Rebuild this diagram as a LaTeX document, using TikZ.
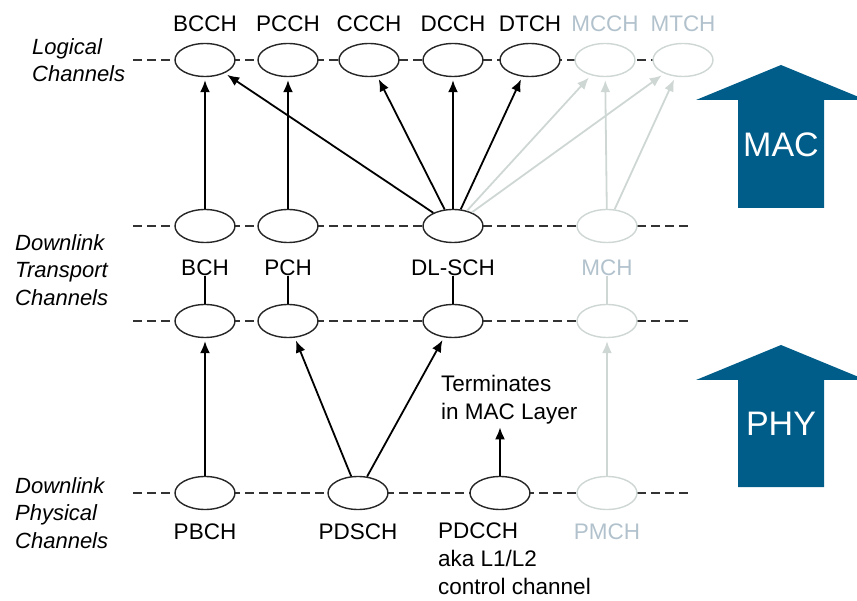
\documentclass[tikz,border=0pt]{standalone}
\usepackage{fontspec}
\setmainfont{Liberation Sans}
\usepackage{xcolor}
\usetikzlibrary{arrows.meta,positioning,shapes.geometric}
\definecolor{layerblue}{RGB}{0,93,137}
\definecolor{mbmsline}{RGB}{206,215,212}
\definecolor{mbmstext}{RGB}{178,194,205}

\begin{document}
\begin{tikzpicture}[
  x=1pt,y=-1pt,
  font=\fontsize{22.5}{28}\selectfont,
  chan/.style={draw=black!85,ellipse,fill=white,line width=1.4pt,
               minimum width=60pt,minimum height=33pt,inner sep=0pt},
  mbms/.style={draw=mbmsline},
  row/.style={draw=black!80,line width=1.3pt,dash pattern=on 9pt off 5pt},
  arr/.style={-{Latex[length=12pt,width=10pt]},line width=1.8pt,shorten >=3pt},
  garr/.style={arr,draw=mbmsline,fill=mbmsline},
  tie/.style={line width=1.4pt},
  lbl/.style={inner sep=0pt},
  glbl/.style={lbl,text=mbmstext},
  side/.style={inner sep=0pt,align=left,anchor=west,
               font=\fontsize{22}{27.5}\selectfont\itshape},
  layer/.style={fill=layerblue},
  layertxt/.style={inner sep=0pt,text=white,font=\fontsize{34}{40}\selectfont}]
\useasboundingbox (0,0) rectangle (857,601);

% dashed rows
\draw[row] (133,60) -- (683,60);
\draw[row] (133,226) -- (690,226);
\draw[row] (133,321) -- (690,321);
\draw[row] (133,493) -- (690,493);

% side captions
\node[side] (logcap) at (32,60) {Logical\\Channels};
\node[side] (trcap) at (15,270) {Downlink\\Transport\\Channels};
\node[side] (phycap) at (15,513) {Downlink\\Physical\\Channels};

% logical channels
\node[chan] (bcch) at (205,60) {};
\node[chan] (pcch) at (288,60) {};
\node[chan] (ccch) at (369,60) {};
\node[chan] (dcch) at (453,60) {};
\node[chan] (dtch) at (530,60) {};
\node[chan,mbms] (mcch) at (605,60) {};
\node[chan,mbms] (mtch) at (683,60) {};
\node[lbl,above=11pt of bcch] (bcchl) {BCCH};
\node[lbl,above=11pt of pcch] (pcchl) {PCCH};
\node[lbl,above=11pt of ccch] (ccchl) {CCCH};
\node[lbl,above=11pt of dcch] (dcchl) {DCCH};
\node[lbl,above=11pt of dtch] (dtchl) {DTCH};
\node[glbl,above=11pt of mcch] (mcchl) {MCCH};
\node[glbl,above=11pt of mtch] (mtchl) {MTCH};

% transport channels, MAC side and PHY side
\node[chan] (bch) at (205,226) {};
\node[chan] (pch) at (288,226) {};
\node[chan] (dlsch) at (453,226) {};
\node[chan,mbms] (mch) at (607,226) {};
\node[lbl,below=16pt of bch] (bchl) {BCH};
\node[lbl,below=16pt of pch] (pchl) {PCH};
\node[lbl,below=16pt of dlsch] (dlschl) {DL-SCH};
\node[glbl,below=16pt of mch] (mchl) {MCH};
\node[chan] (bch2) at (205,321) {};
\node[chan] (pch2) at (288,321) {};
\node[chan] (dlsch2) at (453,321) {};
\node[chan,mbms] (mch2) at (607,321) {};
\draw[tie] (bchl.south) -- (bch2);
\draw[tie] (pchl.south) -- (pch2);
\draw[tie] (dlschl.south) -- (dlsch2);
\draw[tie,mbmsline] (mchl.south) -- (mch2);

% physical channels
\node[chan] (pbch) at (205,493) {};
\node[chan] (pdsch) at (358,493) {};
\node[chan] (pdcch) at (500,493) {};
\node[chan,mbms] (pmch) at (607,493) {};
\node[lbl,below=13pt of pbch] (pbchl) {PBCH};
\node[lbl,below=13pt of pdsch] (pdschl) {PDSCH};
\node[lbl,align=left,anchor=north west] (pdcchl) at (438,523)
  {PDCCH\\aka L1/L2\\control channel};
\node[glbl,below=13pt of pmch] (pmchl) {PMCH};
\node[lbl,align=left,anchor=north west] (term) at (441,375)
  {Terminates\\in MAC Layer};

% mappings
\draw[arr] (bch) -- (bcch);
\draw[arr] (pch) -- (pcch);
\draw[arr] (dlsch) -- (bcch);
\draw[arr] (dlsch) -- (ccch);
\draw[arr] (dlsch) -- (dcch);
\draw[arr] (dlsch) -- (dtch);
\draw[garr] (dlsch) -- (mcch);
\draw[garr] (dlsch) -- (mtch);
\draw[garr] (mch) -- (mcch);
\draw[garr] (mch) -- (mtch);
\draw[arr] (pbch) -- (bch2);
\draw[arr] (pdsch) -- (pch2);
\draw[arr] (pdsch) -- (dlsch2);
\draw[garr] (pmch) -- (mch2);
\draw[arr] (pdcch) -- (pdcch |- term.south);

% layer arrows
\fill[layer] (738,208) -- (738,100) -- (696,100) -- (781,65)
  -- (857,96.3) -- (857,100) -- (824,100) -- (824,208) -- cycle;
\node[layertxt] (mac) at (781,145) {MAC};
\fill[layer] (738,487) -- (738,380) -- (696,380) -- (781,345)
  -- (857,376.3) -- (857,380) -- (824,380) -- (824,487) -- cycle;
\node[layertxt] (phy) at (781,424) {PHY};
\end{tikzpicture}
\end{document}
